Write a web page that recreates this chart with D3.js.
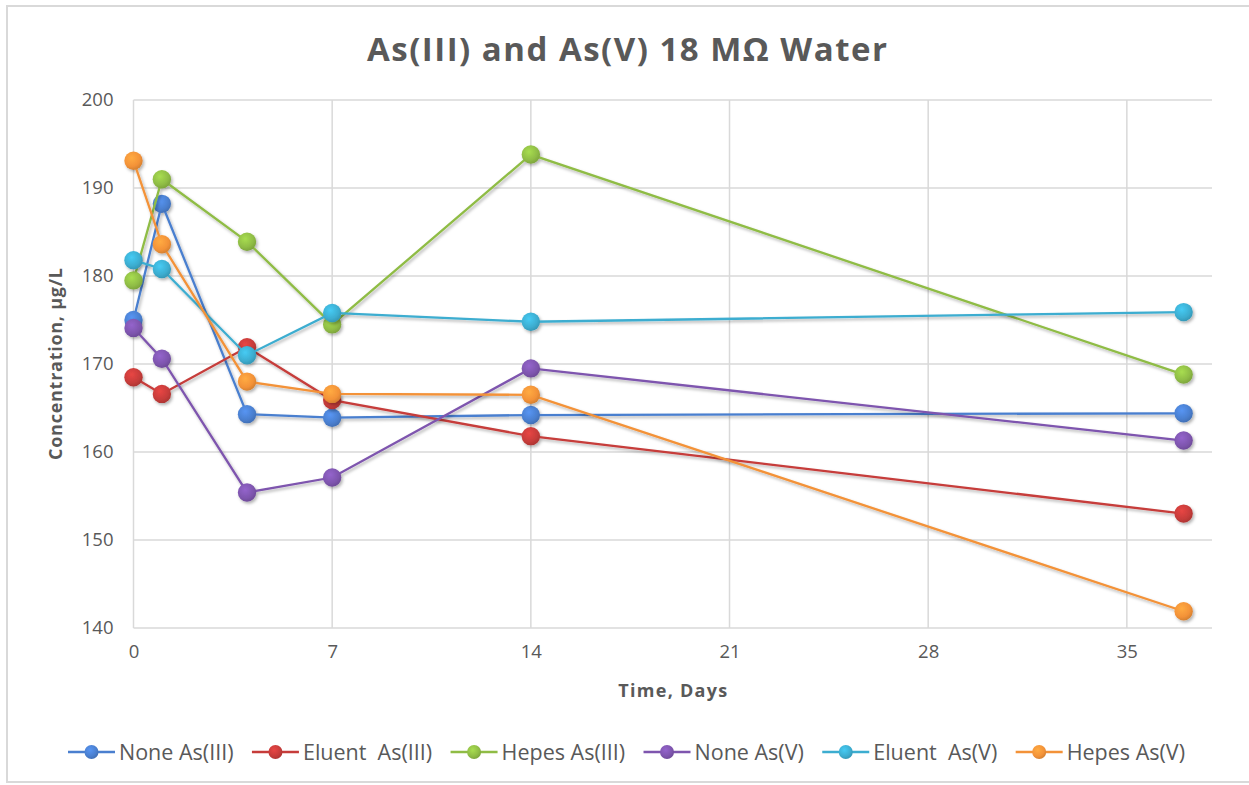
<!DOCTYPE html>
<html>
<head>
<meta charset="utf-8">
<script src="https://cdn.jsdelivr.net/npm/d3@7"></script>
<style>
  html, body { margin: 0; padding: 0; background: #fff; }
  svg { display: block; font-family: "Open Sans", "Noto Sans", sans-serif; }
</style>
</head>
<body>
<svg id="chart" width="1249" height="785"></svg>
<script>
// Sampling days
const days = [0, 1, 4, 7, 14, 37];

// Arsenic concentration (µg/L) per treatment
const noneAs3   = [175.0, 188.2, 164.3, 163.9, 164.2, 164.4];
const eluentAs3 = [168.5, 166.6, 171.9, 165.9, 161.8, 153.0];
const hepesAs3  = [179.5, 191.0, 183.9, 174.5, 193.8, 168.8];
const noneAs5   = [174.1, 170.6, 155.4, 157.1, 169.5, 161.3];
const eluentAs5 = [181.8, 180.8, 171.0, 175.8, 174.8, 175.9];
const hepesAs5  = [193.1, 183.6, 168.0, 166.6, 166.5, 141.9];

const seriesNames = ["None As(III)", "Eluent  As(III)", "Hepes As(III)", "None As(V)", "Eluent  As(V)", "Hepes As(V)"];
const seriesValues = [noneAs3, eluentAs3, hepesAs3, noneAs5, eluentAs5, hepesAs5];
const seriesColors = ["#4a7fcf", "#c63c3a", "#8fbc45", "#7e55ae", "#3cadd0", "#f39238"];

const xTicks = [0, 7, 14, 21, 28, 35];
const yTicks = [140, 150, 160, 170, 180, 190, 200];

const title = "As(III) and As(V) 18 MΩ Water";
const xTitle = "Time, Days";
const yTitle = "Concentration, µg/L";

const svg = d3.select("#chart");
const W = 1249, H = 785;
const plot = { left: 133.5, top: 100, right: 1212, bottom: 628 };
const textColor = "#595959";

const x = d3.scaleLinear().domain([0, 38]).range([plot.left, plot.right]);
const y = d3.scaleLinear().domain([140, 200]).range([plot.bottom, plot.top]);

const defs = svg.append("defs");
seriesColors.forEach((c, i) => {
  const g = defs.append("radialGradient").attr("id", "mk" + i)
    .attr("cx", "40%").attr("cy", "35%").attr("r", "65%");
  g.append("stop").attr("offset", "0%").attr("stop-color", d3.color(c).brighter(0.45));
  g.append("stop").attr("offset", "70%").attr("stop-color", c);
  g.append("stop").attr("offset", "100%").attr("stop-color", d3.color(c).darker(0.35));
});
const shadow = defs.append("filter").attr("id", "shadow")
  .attr("x", "-20%").attr("y", "-20%").attr("width", "140%").attr("height", "140%");
shadow.append("feDropShadow").attr("dx", 1.5).attr("dy", 2).attr("stdDeviation", 1.6)
  .attr("flood-color", "#000").attr("flood-opacity", 0.3);

// Chart frame
svg.append("rect").attr("x", 7).attr("y", 6).attr("width", W + 10).attr("height", H - 9)
  .attr("fill", "#fff").attr("stroke", "#d9d9d9").attr("stroke-width", 2);

// Title
svg.append("text").attr("x", 627).attr("y", 61).attr("text-anchor", "middle")
  .attr("font-size", 33).attr("font-weight", 700).attr("fill", textColor)
  .attr("textLength", 520).attr("lengthAdjust", "spacing").text(title);

// Gridlines
const grid = svg.append("g").attr("stroke", "#d9d9d9").attr("stroke-width", 1.5);
grid.selectAll("line.h").data(yTicks).join("line")
  .attr("x1", plot.left).attr("x2", plot.right)
  .attr("y1", d => y(d)).attr("y2", d => y(d));
grid.selectAll("line.v").data(xTicks).join("line")
  .attr("x1", d => x(d)).attr("x2", d => x(d))
  .attr("y1", plot.top).attr("y2", plot.bottom);

// Axes (labels only; the gridlines carry the lines)
const yAxis = svg.append("g").attr("transform", `translate(${plot.left - 20},0)`)
  .call(d3.axisLeft(y).tickValues(yTicks).tickSize(0).tickPadding(0));
yAxis.select(".domain").remove();
yAxis.selectAll("text").attr("font-size", 18.5).attr("fill", textColor)
  .attr("font-family", "'Open Sans', sans-serif");

const xAxis = svg.append("g").attr("transform", `translate(0,${plot.bottom + 17})`)
  .call(d3.axisBottom(x).tickValues(xTicks).tickSize(0).tickPadding(0));
xAxis.select(".domain").remove();
xAxis.selectAll("text").attr("font-size", 18.5).attr("fill", textColor)
  .attr("font-family", "'Open Sans', sans-serif");

// Axis titles
svg.append("text").attr("x", (plot.left + plot.right) / 2).attr("y", 697)
  .attr("text-anchor", "middle").attr("font-size", 18).attr("font-weight", 700)
  .attr("fill", textColor).attr("textLength", 109).attr("lengthAdjust", "spacing").text(xTitle);
svg.append("text").attr("transform", `translate(62,${(plot.top + plot.bottom) / 2}) rotate(-90)`)
  .attr("text-anchor", "middle").attr("font-size", 18).attr("font-weight", 700)
  .attr("fill", textColor).attr("textLength", 192).attr("lengthAdjust", "spacing").text(yTitle);

// Series lines and markers
const line = d3.line().x(d => x(d[0])).y(d => y(d[1]));
const layer = svg.append("g");
seriesValues.forEach((vals, i) => {
  const pts = days.map((d, j) => [d, vals[j]]);
  const g = layer.append("g").attr("filter", "url(#shadow)");
  g.append("path").datum(pts).attr("d", line).attr("fill", "none")
    .attr("stroke", seriesColors[i]).attr("stroke-width", 2.3);
  g.selectAll("circle").data(pts).join("circle")
    .attr("cx", d => x(d[0])).attr("cy", d => y(d[1])).attr("r", 9.2)
    .attr("fill", `url(#mk${i})`);
});

// Legend: spread the six entries across the width under the plot
const legend = svg.append("g").attr("transform", "translate(0,752)");
const items = legend.selectAll("g").data(seriesNames).join("g");
items.append("line").attr("x1", 0).attr("x2", 47).attr("y1", 0).attr("y2", 0)
  .attr("stroke", (d, i) => seriesColors[i]).attr("stroke-width", 2.3);
items.append("circle").attr("cx", 23.5).attr("cy", 0).attr("r", 7)
  .attr("fill", (d, i) => `url(#mk${i})`);
items.append("text").attr("x", 51).attr("y", 7.5).attr("font-size", 21.5)
  .attr("fill", textColor).style("white-space", "pre").text(d => d);
let widths = [];
items.each(function () { widths.push(51 + this.querySelector("text").getComputedTextLength()); });
const legendLeft = 68, legendRight = 1185;
const gap = (legendRight - legendLeft - d3.sum(widths)) / (widths.length - 1);
let cx = legendLeft;
items.attr("transform", (d, i) => {
  const t = `translate(${cx},0)`;
  cx += widths[i] + gap;
  return t;
});
</script>
</body>
</html>
